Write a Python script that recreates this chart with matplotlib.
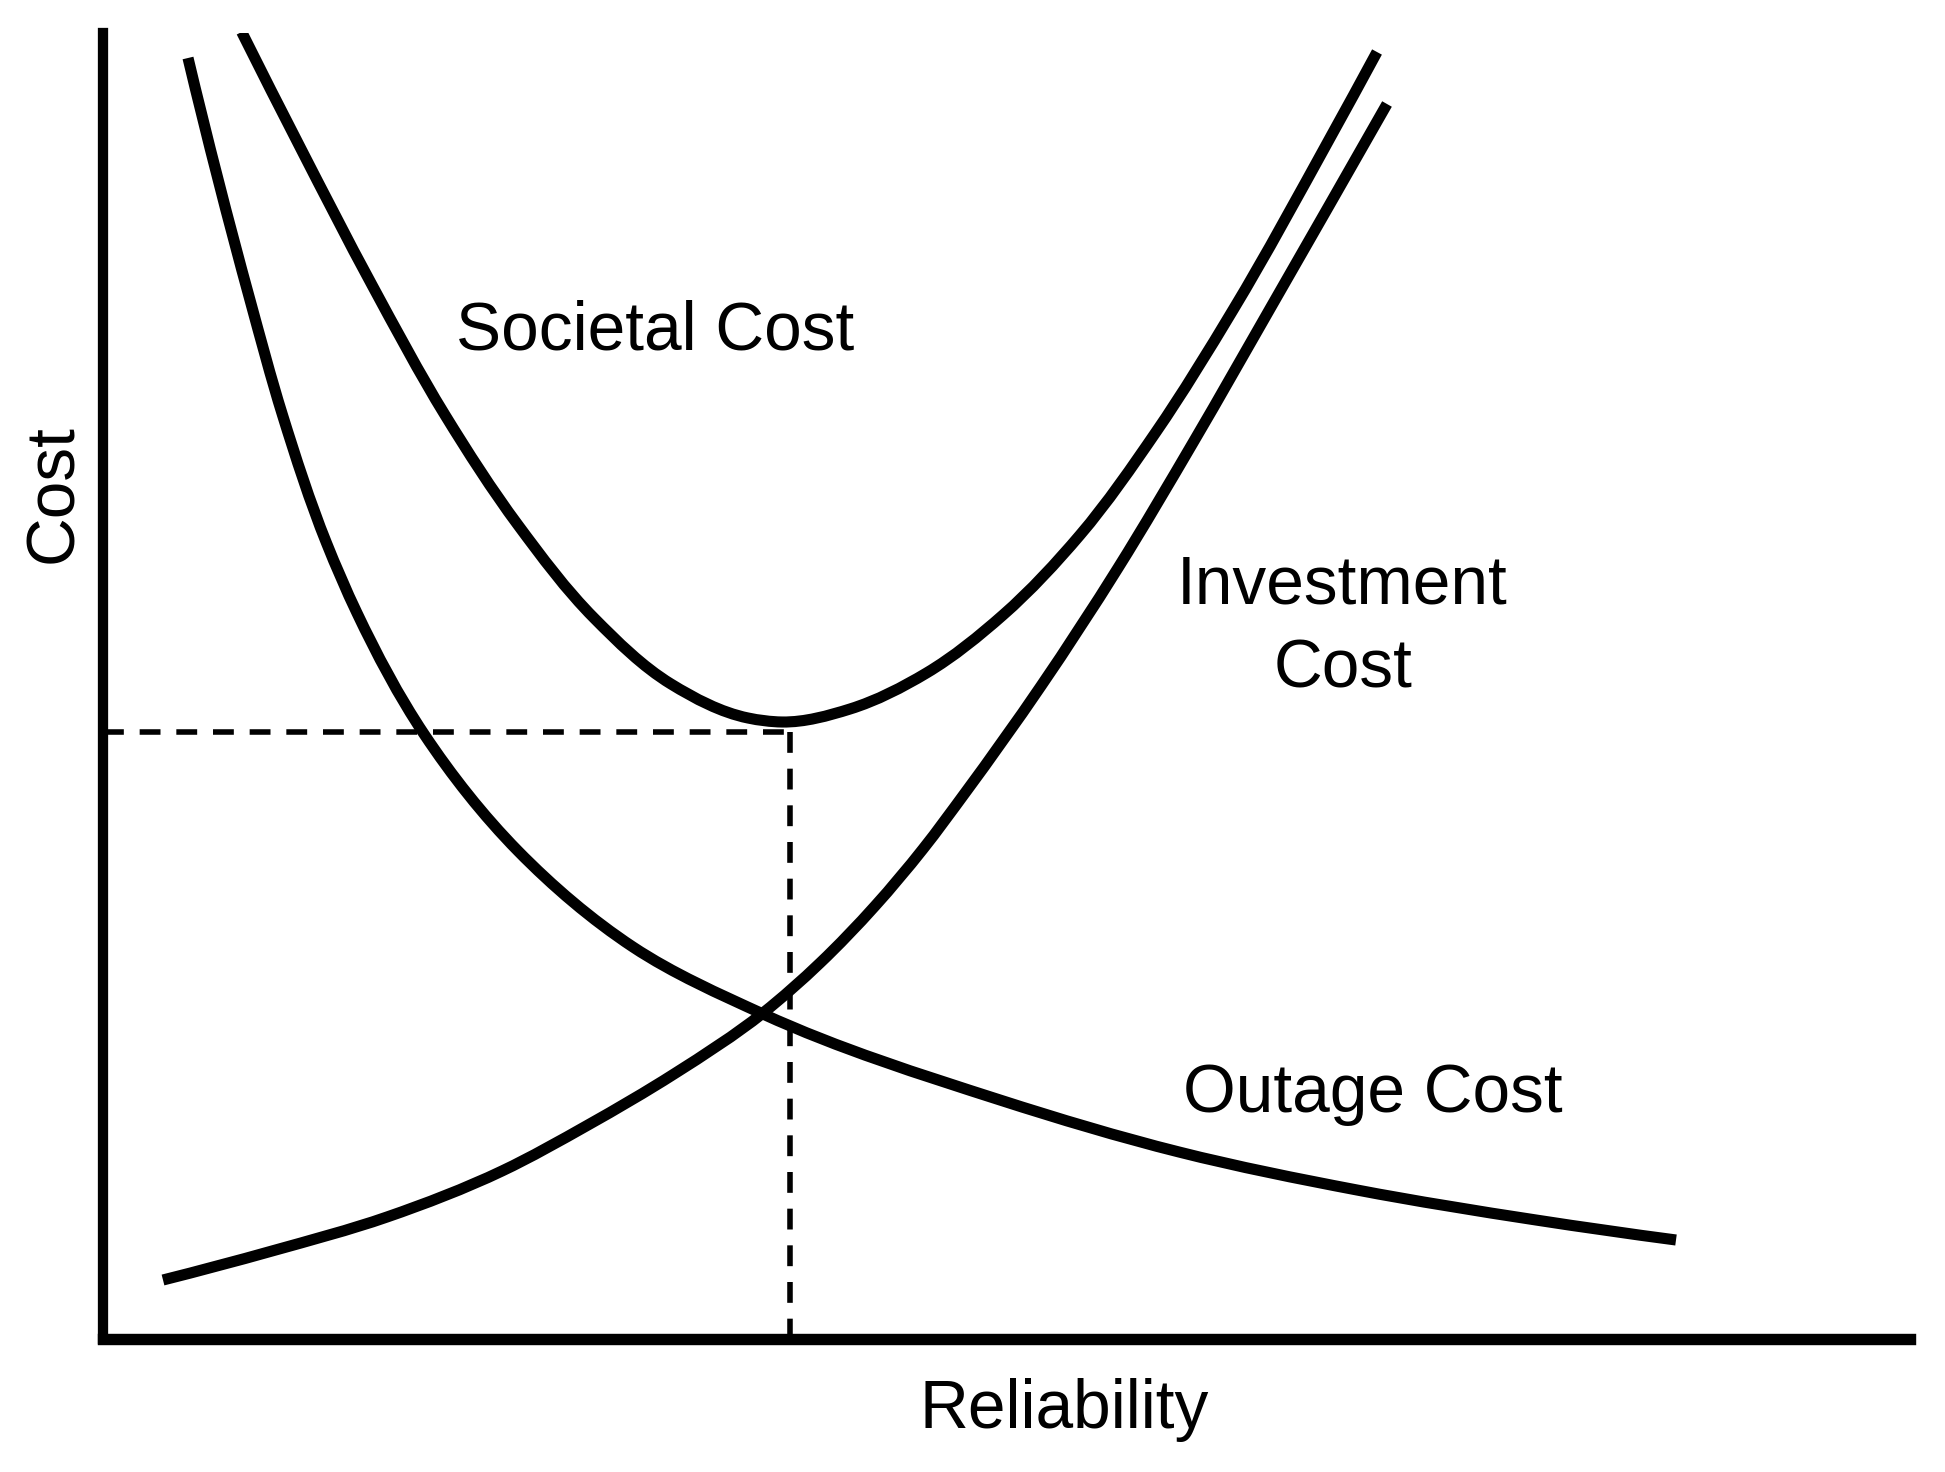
import numpy as np
import matplotlib
matplotlib.use("Agg")
import matplotlib.pyplot as plt
from matplotlib.path import Path
from matplotlib.patches import PathPatch

#----------------------------------DATA----------------------------------

# curva costo di interruzione (outage cost)
outage_x = [85, 147, 179.5, 223.5, 254, 321, 415, 530, 660, 897, 1076, 1254, 1433, 1573]
outage_y = [1281, 1039, 924, 796, 726, 605, 488, 392, 325, 239, 187, 149, 119, 99]

# curva costo di investimento
invest_x = [60, 169, 284, 399, 485, 571, 660, 717, 772, 820, 862, 938, 1015, 1091, 1168, 1284]
invest_y = [59, 88, 122, 168, 214, 265, 326, 376, 433, 490, 546, 653, 771, 898, 1032, 1235]

# curva costo sociale (somma delle due)
societal_x = [138.7, 197, 269, 342, 415, 491, 568, 645, 679, 747, 823.5, 900, 977,
              1053, 1130, 1227, 1274]
societal_y = [1307, 1192, 1054, 924, 814, 721, 655, 621, 617, 630, 666, 724, 804,
              907, 1029, 1201, 1287]

# punto ottimo (minimo del costo sociale)
optimum_x = 687
optimum_y = 607

labels = ["Societal Cost", "Investment", "Cost", "Outage Cost"]

#----------------------------------FUNCTIONS---------------------------------

# Curva liscia che passa per i punti letti (tangenti di Bessel, tratti di Bezier cubica)
def smooth_path(xs, ys):
    p = np.column_stack([xs, ys]).astype(float)
    n = len(p)
    d = np.linalg.norm(np.diff(p, axis=0), axis=1)
    t = np.zeros_like(p)
    for i in range(1, n - 1):
        a = (p[i] - p[i - 1]) / d[i - 1]
        b = (p[i + 1] - p[i]) / d[i]
        t[i] = (d[i] * a + d[i - 1] * b) / (d[i - 1] + d[i])
    t[0] = 2 * (p[1] - p[0]) / d[0] - t[1]
    t[-1] = 2 * (p[-1] - p[-2]) / d[-1] - t[-2]
    verts = [p[0]]
    codes = [Path.MOVETO]
    for i in range(n - 1):
        verts += [p[i] + t[i] * d[i] / 3, p[i + 1] - t[i + 1] * d[i] / 3, p[i + 1]]
        codes += [Path.CURVE4] * 3
    return Path(verts, codes)

#----------------------------------PLOT----------------------------------

plt.rcParams['font.family'] = ['Liberation Sans', 'DejaVu Sans']

fig = plt.figure(figsize=(19.45, 14.72), dpi=100)
ax = fig.add_axes([103 / 1945, 133 / 1472, 1807 / 1945, 1306 / 1472])
ax.set_xlim(0, 1807)
ax.set_ylim(0, 1306)

lw = 8.0
for xs, ys in [(outage_x, outage_y), (invest_x, invest_y), (societal_x, societal_y)]:
    ax.add_patch(PathPatch(smooth_path(xs, ys), fill=False, edgecolor='black', lw=lw,
                           capstyle='butt', joinstyle='round'))

# linee tratteggiate verso gli assi
ax.plot([0, optimum_x], [optimum_y, optimum_y], color='black', lw=4, dashes=(3.75, 2.85), dash_capstyle='butt')
ax.plot([optimum_x, optimum_x], [optimum_y, 0], color='black', lw=4, dashes=(3.75, 2.85), dash_capstyle='butt')

# assi
for side in ['top', 'right']:
    ax.spines[side].set_visible(False)
ax.spines['left'].set_linewidth(7.4)
ax.spines['bottom'].set_linewidth(8.2)
for side in ['left', 'bottom']:
    ax.spines[side].set_capstyle('projecting')
    ax.spines[side].set_zorder(5)
ax.set_xticks([])
ax.set_yticks([])

fs = 48.7
ax.text(552, 989, labels[0], fontsize=fs, ha='center', va='baseline')
ax.text(1239, 736, labels[1], fontsize=fs, ha='center', va='baseline')
ax.text(1240, 652, labels[2], fontsize=fs, ha='center', va='baseline')
ax.text(1270, 227, labels[3], fontsize=fs, ha='center', va='baseline')

# etichette degli assi
ax.text(961, -89, "Reliability", fontsize=fs, ha='center', va='baseline', clip_on=False)
ax.text(-31, 845, "Cost", fontsize=fs, ha='center', va='baseline', rotation=90,
        rotation_mode='anchor', clip_on=False)

fig.savefig("out.png", dpi=100)
